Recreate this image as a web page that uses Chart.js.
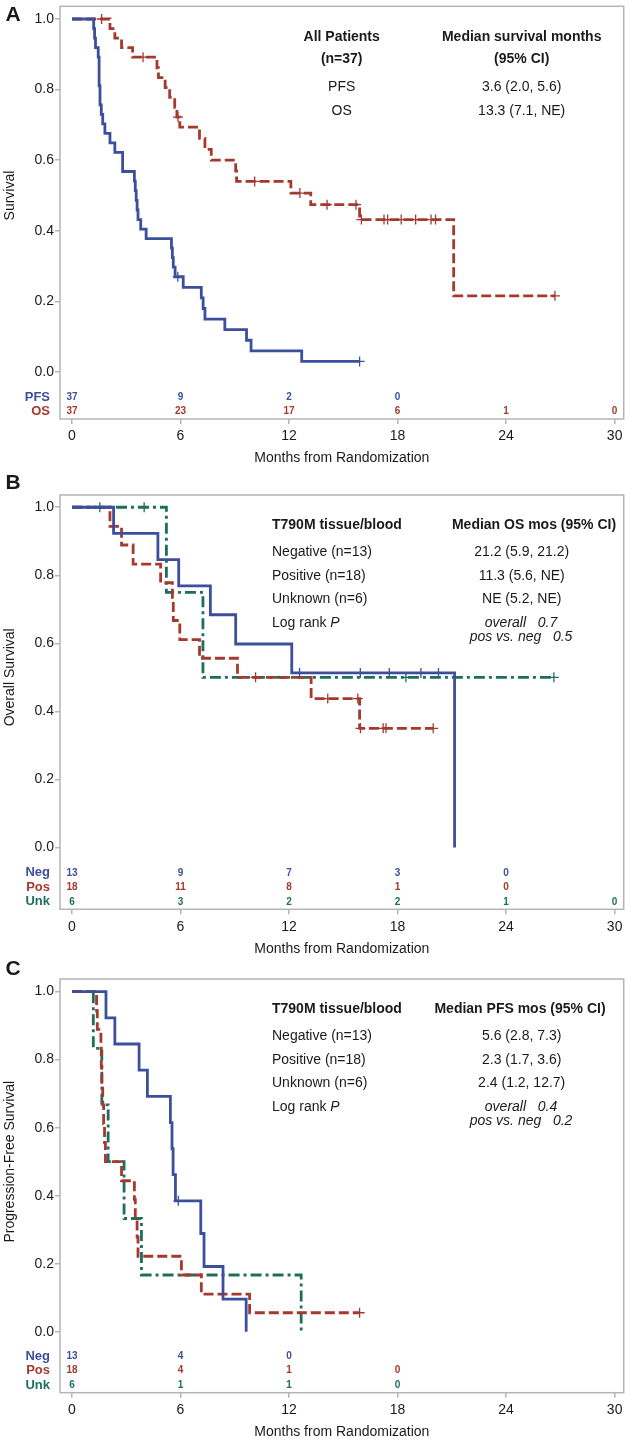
<!DOCTYPE html>
<html>
<head>
<meta charset="utf-8">
<title>Kaplan-Meier curves</title>
<script src="https://cdn.jsdelivr.net/npm/chart.js@4.4.1/dist/chart.umd.min.js"></script>
<style>
  body { margin: 0; background: #fff; }
  canvas { position: absolute; left: 0; }
</style>
</head>
<body>
<canvas id="panelA" width="630" height="470" style="top:0px"></canvas>
<canvas id="panelB" width="630" height="490" style="top:470px"></canvas>
<canvas id="panelC" width="630" height="482" style="top:960px"></canvas>
<script>
// ticks shared by the three panels
const monthTicks = [0, 6, 12, 18, 24, 30];
const survTicks = [0, 0.2, 0.4, 0.6, 0.8, 1.0];

// A: all patients, PFS and OS (times in months, survival, censor marks)
const pfsAllT = [0, 1.2, 1.25, 1.3, 1.45, 1.5, 1.55, 1.62, 1.7, 1.82, 2.1, 2.37, 2.8, 3.45, 3.5, 3.55, 3.6, 3.65, 3.8, 4.1, 5.5, 5.55, 5.6, 5.7, 5.85, 6.15, 7.15, 7.25, 7.35, 8.45, 9.65, 9.9, 12.7, 15.9];
const pfsAllS = [1, .973, .946, .919, .892, .811, .757, .730, .703, .676, .649, .622, .568, .541, .514, .486, .459, .432, .405, .378, .351, .324, .297, .270, .270, .240, .210, .180, .150, .120, .090, .060, .030, .030];
const pfsAllCens = [5.85, 15.9];

const osAllT = [0, 1.64, 2.1, 2.37, 2.74, 3.35, 3.93, 4.7, 4.78, 5.15, 5.4, 5.68, 5.8, 5.86, 5.96, 7.05, 7.35, 7.7, 9.05, 9.1, 10.1, 12.1, 12.6, 13.2, 14.1, 15.7, 15.9, 16.0, 17.25, 17.45, 18.2, 19.0, 19.85, 20.1, 21.1, 26.7];
const osAllS = [1, 1, .973, .946, .919, .892, .892, .862, .834, .806, .778, .750, .722, .722, .694, .662, .631, .600, .570, .540, .540, .507, .507, .474, .474, .474, .432, .432, .432, .432, .432, .432, .432, .432, .216, .216];
const osAllCens = [1.64, 3.93, 5.86, 10.1, 12.6, 14.1, 15.7, 16.0, 17.25, 17.45, 18.2, 19.0, 19.85, 20.1, 26.7];

const pfsRisk = [37, 9, 2, 0];
const osRisk = [37, 23, 17, 6, 1, 0];

// B: overall survival by T790M status
const osNegT = [0, 2.3, 4.75, 5.9, 7.65, 9.05, 12.15, 12.58, 15.94, 17.54, 19.29, 20.26, 21.15];
const osNegS = [1, .923, .846, .769, .684, .598, .513, .513, .513, .513, .513, .513, 0];
const osNegCens = [12.58, 15.94, 17.54, 19.29, 20.26];

const osPosT = [0, 2.1, 2.74, 3.38, 4.9, 5.55, 5.6, 5.96, 7.05, 9.15, 10.15, 13.22, 14.14, 15.8, 15.9, 15.95, 17.2, 17.36, 19.97];
const osPosS = [1, .944, .889, .833, .778, .722, .667, .611, .556, .5, .5, .4375, .4375, .4375, .35, .35, .35, .35, .35];
const osPosCens = [10.15, 14.14, 15.8, 15.95, 17.2, 17.36, 19.97];

const osUnkT = [0, 1.54, 3.99, 5.22, 7.24, 18.46, 26.64];
const osUnkS = [1, 1, 1, .75, .5, .5, .5];
const osUnkCens = [1.54, 3.99, 18.46, 26.64];

const osNegRisk = [13, 9, 7, 3, 0];
const osPosRisk = [18, 11, 8, 1, 0];
const osUnkRisk = [6, 3, 2, 2, 1, 0];

// C: progression-free survival by T790M status
const pfsNegT = [0, 1.88, 2.37, 3.71, 4.17, 5.44, 5.53, 5.59, 5.72, 5.88, 7.12, 7.3, 8.35, 9.63];
const pfsNegS = [1, .923, .846, .769, .692, .615, .538, .462, .385, .385, .289, .192, .096, 0];
const pfsNegCens = [5.88];

const pfsPosT = [0, 1.36, 1.4, 1.6, 1.62, 1.65, 1.7, 1.75, 1.8, 1.85, 2.74, 3.45, 3.5, 3.6, 3.65, 6.05, 7.15, 9.82, 15.9];
const pfsPosS = [1, .944, .889, .833, .778, .722, .667, .611, .556, .5, .444, .389, .333, .278, .222, .167, .111, .056, .056];
const pfsPosCens = [15.9];

const pfsUnkT = [0, 1.18, 1.65, 2.0, 2.88, 3.84, 12.67];
const pfsUnkS = [1, .833, .667, .5, .333, .167, 0];
const pfsUnkCens = [];

const pfsNegRisk = [13, 4, 0];
const pfsPosRisk = [18, 4, 1, 0];
const pfsUnkRisk = [6, 1, 1, 0];

const FONT = "'Liberation Sans', Arial, Helvetica, sans-serif";
const BLUE = '#3b4f9d';
const RED = '#a5392d';
const GREEN = '#1d6e5d';
const FRAME = '#b4b4b4';
const TEXT = '#1a1a1a';
const RED_DASH = [10, 4];
const GREEN_DASH = [11, 4, 3, 4];

function f(style, size) {
  return (style ? style + ' ' : '') + size + 'px ' + FONT;
}

// one text line, possibly mixed fonts: parts = [[text, style], ...]
function note(x, dy, align, parts) {
  return { x, dy, align, parts };
}

const panels = [
  {
    id: 'panelA', letter: 'A', letterY: 15, height: 470, frameTop: 4, frameBottom: 419,
    yMin: -0.133, yMax: 1.036, yTitle: 'Survival',
    curves: [
      { t: pfsAllT, s: pfsAllS, cens: pfsAllCens, color: BLUE, dash: [] },
      { t: osAllT, s: osAllS, cens: osAllCens, color: RED, dash: RED_DASH }
    ],
    risk: [
      { label: 'PFS', n: pfsRisk, color: BLUE },
      { label: 'OS', n: osRisk, color: RED }
    ],
    notes: [
      note(341.7, 31, 'center', [['All Patients', 'bold']]),
      note(341.7, 53, 'center', [['(n=37)', 'bold']]),
      note(521.7, 31, 'center', [['Median survival months', 'bold']]),
      note(521.7, 53, 'center', [['(95% CI)', 'bold']]),
      note(341.7, 81, 'center', [['PFS', '']]),
      note(521.7, 81, 'center', [['3.6 (2.0, 5.6)', '']]),
      note(341.7, 105, 'center', [['OS', '']]),
      note(521.7, 105, 'center', [['13.3 (7.1, NE)', '']])
    ]
  },
  {
    id: 'panelB', letter: 'B', letterY: 13.5, height: 490, frameTop: 25, frameBottom: 439.3,
    yMin: -0.182, yMax: 1.036, yTitle: 'Overall Survival',
    curves: [
      { t: osNegT, s: osNegS, cens: osNegCens, color: BLUE, dash: [] },
      { t: osPosT, s: osPosS, cens: osPosCens, color: RED, dash: RED_DASH },
      { t: osUnkT, s: osUnkS, cens: osUnkCens, color: GREEN, dash: GREEN_DASH }
    ],
    risk: [
      { label: 'Neg', n: osNegRisk, color: BLUE },
      { label: 'Pos', n: osPosRisk, color: RED },
      { label: 'Unk', n: osUnkRisk, color: GREEN }
    ],
    notes: [
      note(272, 30, 'left', [['T790M tissue/blood', 'bold']]),
      note(534, 30, 'center', [['Median OS mos (95% CI)', 'bold']]),
      note(272, 57, 'left', [['Negative (n=13)', '']]),
      note(521.7, 57, 'center', [['21.2 (5.9, 21.2)', '']]),
      note(272, 81, 'left', [['Positive (n=18)', '']]),
      note(521.7, 81, 'center', [['11.3 (5.6, NE)', '']]),
      note(272, 104.5, 'left', [['Unknown (n=6)', '']]),
      note(521.7, 104.5, 'center', [['NE (5.2, NE)', '']]),
      note(272, 128, 'left', [['Log rank ', ''], ['P', 'italic']]),
      note(521, 128, 'center', [['overall   0.7', 'italic']]),
      note(521, 142, 'center', [['pos vs. neg   0.5', 'italic']])
    ]
  },
  {
    id: 'panelC', letter: 'C', letterY: 9.5, height: 482, frameTop: 19, frameBottom: 432.7,
    yMin: -0.179, yMax: 1.037, yTitle: 'Progression-Free Survival',
    curves: [
      { t: pfsNegT, s: pfsNegS, cens: pfsNegCens, color: BLUE, dash: [] },
      { t: pfsPosT, s: pfsPosS, cens: pfsPosCens, color: RED, dash: RED_DASH },
      { t: pfsUnkT, s: pfsUnkS, cens: pfsUnkCens, color: GREEN, dash: GREEN_DASH }
    ],
    risk: [
      { label: 'Neg', n: pfsNegRisk, color: BLUE },
      { label: 'Pos', n: pfsPosRisk, color: RED },
      { label: 'Unk', n: pfsUnkRisk, color: GREEN }
    ],
    notes: [
      note(272, 30, 'left', [['T790M tissue/blood', 'bold']]),
      note(520, 30, 'center', [['Median PFS mos (95% CI)', 'bold']]),
      note(272, 57, 'left', [['Negative (n=13)', '']]),
      note(521.7, 57, 'center', [['5.6 (2.8, 7.3)', '']]),
      note(272, 81, 'left', [['Positive (n=18)', '']]),
      note(521.7, 81, 'center', [['2.3 (1.7, 3.6)', '']]),
      note(272, 104.5, 'left', [['Unknown (n=6)', '']]),
      note(521.7, 104.5, 'center', [['2.4 (1.2, 12.7)', '']]),
      note(272, 128, 'left', [['Log rank ', ''], ['P', 'italic']]),
      note(521, 128, 'center', [['overall   0.4', 'italic']]),
      note(521, 142, 'center', [['pos vs. neg   0.2', 'italic']])
    ]
  }
];

function drawNote(ctx, n, top) {
  const y = top + n.dy;
  const widths = n.parts.map(([txt, st]) => { ctx.font = f(st, 14); return ctx.measureText(txt).width; });
  const total = widths.reduce((a, b) => a + b, 0);
  let x = n.align === 'center' ? n.x - total / 2 : n.x;
  n.parts.forEach(([txt, st], i) => {
    ctx.font = f(st, 14);
    ctx.fillText(txt, x, y);
    x += widths[i];
  });
}

function decor(p) {
  return {
    id: 'decor',
    beforeDatasetsDraw(chart) {
      const { ctx, chartArea: a } = chart;
      ctx.save();
      ctx.strokeStyle = FRAME;
      ctx.lineWidth = 1.5;
      ctx.strokeRect(a.left, a.top, a.right - a.left, a.bottom - a.top);
      ctx.restore();
    },
    afterDraw(chart) {
      const { ctx, chartArea: a, scales: { x, y } } = chart;
      ctx.save();
      ctx.textBaseline = 'middle';
      ctx.fillStyle = TEXT;

      // panel letter
      ctx.font = f('bold', 21);
      ctx.textAlign = 'left';
      ctx.fillText(p.letter, 5.5, p.letterY);

      // axis titles
      ctx.font = f('', 14);
      ctx.textAlign = 'center';
      ctx.fillText('Months from Randomization', (a.left + a.right) / 2, a.bottom + 39.5);
      ctx.save();
      ctx.translate(10, y.getPixelForValue(0.5));
      ctx.rotate(-Math.PI / 2);
      ctx.fillText(p.yTitle, 0, 0);
      ctx.restore();

      // summary table
      ctx.textAlign = 'left';
      p.notes.forEach(n => drawNote(ctx, n, a.top));

      // numbers at risk
      const rows = p.risk.length;
      p.risk.forEach((r, i) => {
        const ry = a.bottom - 7.5 - 14.5 * (rows - 1 - i);
        ctx.fillStyle = r.color;
        ctx.font = f('bold', 13);
        ctx.textAlign = 'right';
        ctx.fillText(r.label, 50, ry);
        ctx.font = f('bold', 10);
        ctx.textAlign = 'center';
        r.n.forEach((v, j) => ctx.fillText(String(v), x.getPixelForValue(monthTicks[j]), ry));
      });
      ctx.restore();
    }
  };
}

panels.forEach(p => {
  new Chart(document.getElementById(p.id), {
    type: 'line',
    data: {
      datasets: p.curves.map(c => ({
        data: c.t.map((t, i) => ({ x: t, y: c.s[i] })),
        borderColor: c.color,
        borderWidth: 2.8,
        borderDash: c.dash,
        borderCapStyle: 'butt',
        stepped: true,
        fill: false,
        pointStyle: 'cross',
        pointBorderColor: c.color,
        pointBackgroundColor: c.color,
        pointBorderWidth: 1.3,
        pointRadius: ctx => (ctx.raw && c.cens.includes(ctx.raw.x)) ? 5 : 0,
        pointHoverRadius: 0
      }))
    },
    options: {
      responsive: false,
      animation: false,
      devicePixelRatio: 1,
      events: [],
      layout: { padding: { left: 0, right: 5, top: p.frameTop, bottom: 0 } },
      plugins: { legend: { display: false }, tooltip: { enabled: false } },
      scales: {
        x: {
          type: 'linear',
          min: -0.662,
          max: 30.5,
          afterBuildTicks: s => { s.ticks = monthTicks.map(v => ({ value: v })); },
          afterFit: s => { s.height = p.height - p.frameBottom; s.paddingLeft = 0; s.paddingRight = 0; },
          ticks: { autoSkip: false, maxRotation: 0, padding: 4, color: TEXT, font: { family: FONT, size: 14 } },
          grid: { drawOnChartArea: false, drawTicks: true, tickLength: 5, color: FRAME, lineWidth: 1.5 },
          border: { display: false }
        },
        y: {
          type: 'linear',
          min: p.yMin,
          max: p.yMax,
          afterBuildTicks: s => { s.ticks = survTicks.map(v => ({ value: v })); },
          afterFit: s => { s.width = 60; s.paddingTop = 0; s.paddingBottom = 0; },
          ticks: { padding: 1, color: TEXT, font: { family: FONT, size: 14 }, callback: v => v.toFixed(1) },
          grid: { drawOnChartArea: false, drawTicks: true, tickLength: 5, color: FRAME, lineWidth: 1.5 },
          border: { display: false }
        }
      }
    },
    plugins: [decor(p)]
  });
});
</script>
</body>
</html>
